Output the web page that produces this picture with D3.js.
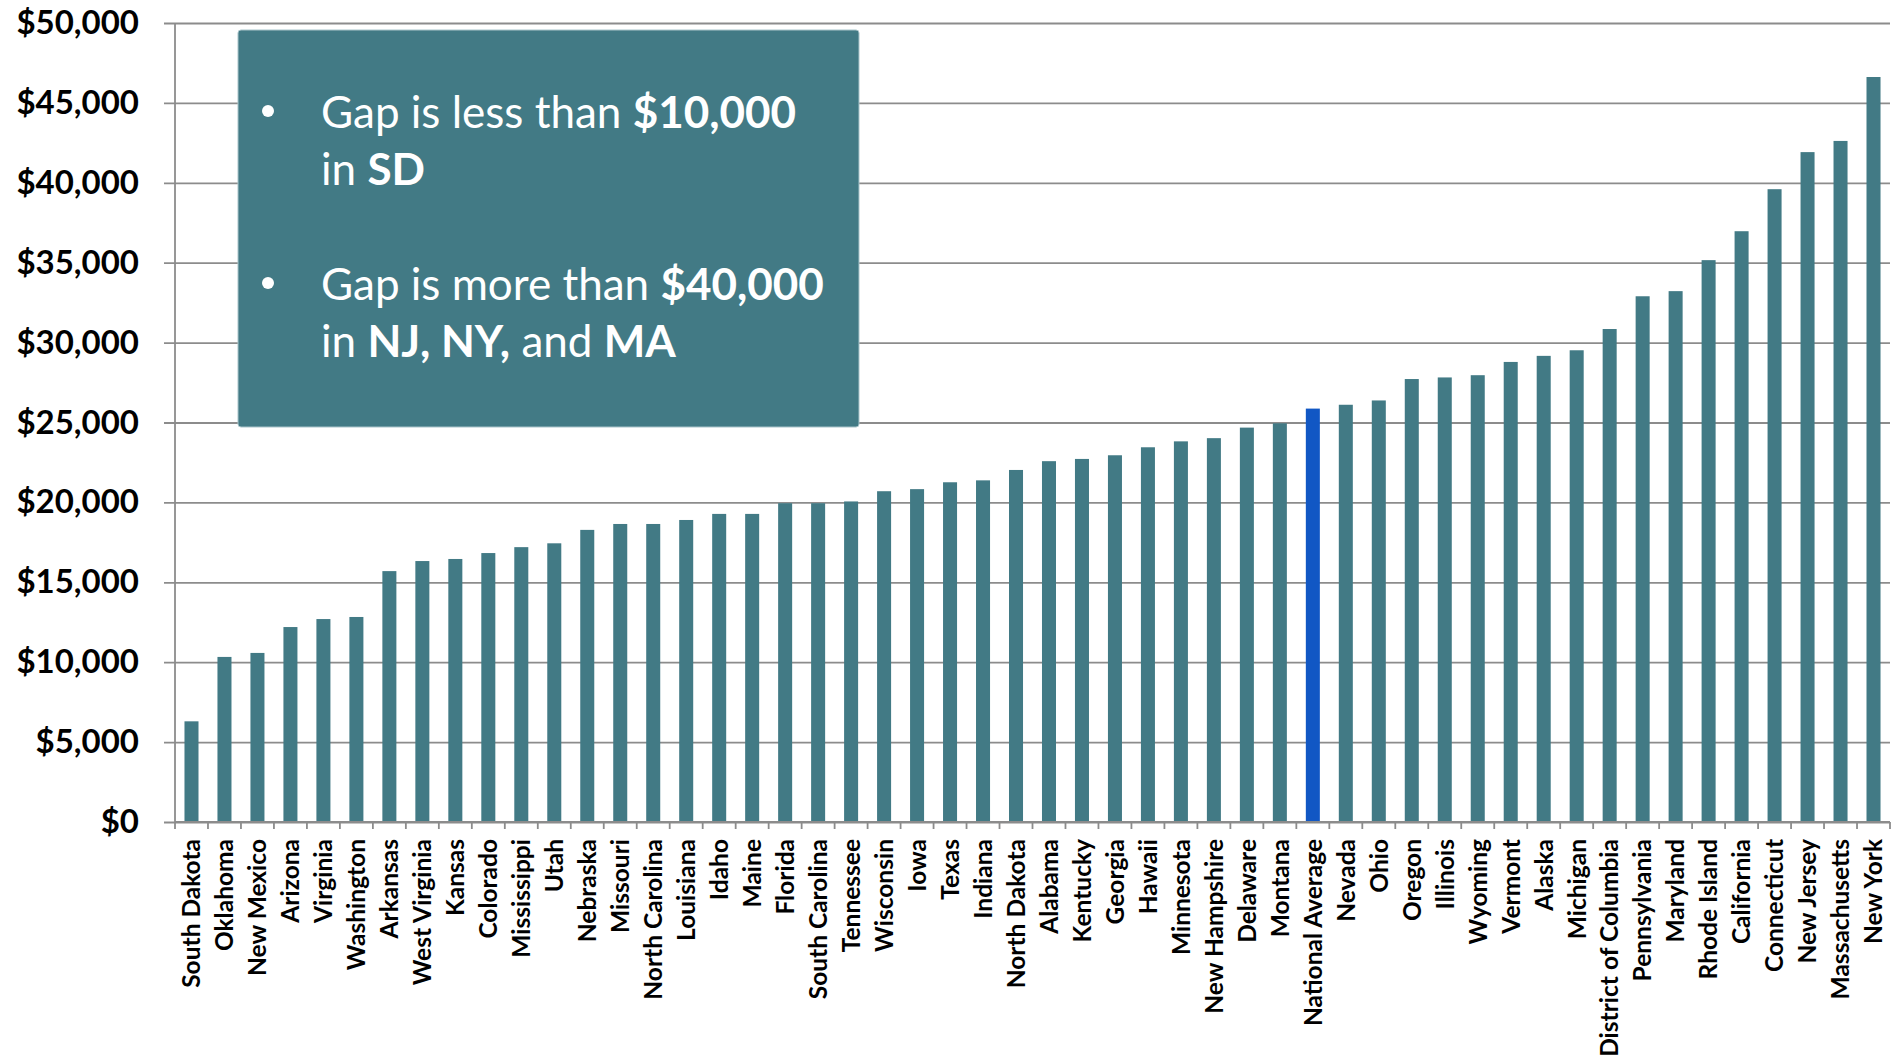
<!DOCTYPE html>
<html>
<head>
<meta charset="utf-8">
<script src="https://cdn.jsdelivr.net/npm/d3@7"></script>
<style>
  body { margin: 0; background: #fff; }
  svg { display: block; font-family: Lato, "Open Sans", sans-serif; }
</style>
</head>
<body>
<div id="chart"></div>
<script>
//chart data
const states = ['South Dakota', 'Oklahoma', 'New Mexico', 'Arizona', 'Virginia', 'Washington',
  'Arkansas', 'West Virginia', 'Kansas', 'Colorado', 'Mississippi', 'Utah', 'Nebraska',
  'Missouri', 'North Carolina', 'Louisiana', 'Idaho', 'Maine', 'Florida', 'South Carolina',
  'Tennessee', 'Wisconsin', 'Iowa', 'Texas', 'Indiana', 'North Dakota', 'Alabama', 'Kentucky',
  'Georgia', 'Hawaii', 'Minnesota', 'New Hampshire', 'Delaware', 'Montana', 'National Average',
  'Nevada', 'Ohio', 'Oregon', 'Illinois', 'Wyoming', 'Vermont', 'Alaska', 'Michigan',
  'District of Columbia', 'Pennsylvania', 'Maryland', 'Rhode Island', 'California',
  'Connecticut', 'New Jersey', 'Massachusetts', 'New York'];
const gaps = [6300, 10330, 10580, 12200, 12700, 12830,
  15700, 16330, 16460, 16830, 17200, 17440, 18280,
  18650, 18650, 18900, 19280, 19280, 19950, 19950,
  20060, 20700, 20830, 21260, 21380, 22030, 22580, 22720,
  22950, 23450, 23820, 24020, 24680, 24950, 25870,
  26110, 26380, 27720, 27820, 27960, 28790, 29170, 29520,
  30850, 32900, 33220, 35160, 36970,
  39600, 41920, 42620, 46620];
const highlight = 'National Average';
const yTicks = [0, 5000, 10000, 15000, 20000, 25000, 30000, 35000, 40000, 45000, 50000];

//setup constants
const WIDTH = 1895;
const HEIGHT = 1058;
const LEFT = 175, RIGHT = 1890, TOP = 23, BOTTOM = 822;
const TEAL = '#427a85';
const BLUE = '#1157c4';
const GRID = '#8c8c8c';

let svg = d3.select('#chart')
  .append('svg')
  .attr('width', WIDTH)
  .attr('height', HEIGHT);

let x = d3.scaleBand()
  .domain(states)
  .range([LEFT, RIGHT])
  .paddingInner(0.575)
  .paddingOuter(0.2875);

let y = d3.scaleLinear()
  .domain([0, 50000])
  .range([BOTTOM, TOP]);

//gridlines + y labels
let yAxis = d3.axisLeft(y)
  .tickValues(yTicks)
  .tickSize(RIGHT - LEFT + 11)
  .tickFormat(d => '$' + d3.format(',')(d));

svg.append('g')
  .attr('transform', `translate(${RIGHT},0)`)
  .call(yAxis)
  .call(g => g.select('.domain').remove())
  .call(g => g.selectAll('.tick line').attr('stroke', GRID).attr('stroke-width', 1.8))
  .call(g => g.selectAll('.tick text')
    .attr('x', -(RIGHT - LEFT) - 36)
    .attr('fill', '#000')
    .attr('font-size', 33)
    .attr('font-weight', 'bold')
    .attr('font-family', 'Lato, sans-serif'));

//y axis line
svg.append('line')
  .attr('x1', LEFT).attr('x2', LEFT)
  .attr('y1', TOP).attr('y2', BOTTOM)
  .attr('stroke', GRID)
  .attr('stroke-width', 1.8);

//bars
svg.append('g')
  .selectAll('rect')
  .data(states)
  .join('rect')
  .attr('x', d => x(d))
  .attr('y', (d, i) => y(gaps[i]))
  .attr('width', x.bandwidth())
  .attr('height', (d, i) => y(0) - y(gaps[i]))
  .attr('fill', d => d === highlight ? BLUE : TEAL);

//x axis
let step = x.step();
svg.append('line')
  .attr('x1', LEFT).attr('x2', RIGHT)
  .attr('y1', BOTTOM).attr('y2', BOTTOM)
  .attr('stroke', GRID)
  .attr('stroke-width', 1.8);

svg.append('g')
  .selectAll('line')
  .data(d3.range(states.length + 1))
  .join('line')
  .attr('x1', i => LEFT + i * step)
  .attr('x2', i => LEFT + i * step)
  .attr('y1', BOTTOM)
  .attr('y2', BOTTOM + 7)
  .attr('stroke', GRID)
  .attr('stroke-width', 1.8);

svg.append('g')
  .selectAll('text')
  .data(states)
  .join('text')
  .attr('transform', d => `translate(${x(d) + x.bandwidth() / 2},${BOTTOM + 17}) rotate(-90)`)
  .attr('text-anchor', 'end')
  .attr('dy', '0.36em')
  .attr('font-size', 24.5)
  .attr('font-weight', 'bold')
  .attr('fill', '#000')
  .text(d => d);

//callout box
let box = svg.append('g');
box.append('rect')
  .attr('x', 238)
  .attr('y', 30)
  .attr('width', 621)
  .attr('height', 397)
  .attr('rx', 3)
  .attr('fill', TEAL)
  .attr('stroke', '#a9c4ca')
  .attr('stroke-width', 1);

const lines = [
  { y: 128, bullet: true, parts: [['Gap is less than ', 'normal'], ['$10,000', 'bold']] },
  { y: 185, bullet: false, parts: [['in ', 'normal'], ['SD', 'bold']] },
  { y: 300, bullet: true, parts: [['Gap is more than ', 'normal'], ['$40,000', 'bold']] },
  { y: 357, bullet: false, parts: [['in ', 'normal'], ['NJ, NY,', 'bold'], [' and ', 'normal'], ['MA', 'bold']] }
];

lines.forEach(l => {
  if (l.bullet) {
    box.append('circle')
      .attr('cx', 268)
      .attr('cy', l.y - 17)
      .attr('r', 6)
      .attr('fill', '#fff');
  }
  let t = box.append('text')
    .attr('x', 321)
    .attr('y', l.y)
    .attr('fill', '#fff')
    .attr('font-size', 44)
    .style('white-space', 'pre');
  l.parts.forEach(p => {
    t.append('tspan')
      .attr('font-weight', p[1])
      .text(p[0]);
  });
});
</script>
</body>
</html>
